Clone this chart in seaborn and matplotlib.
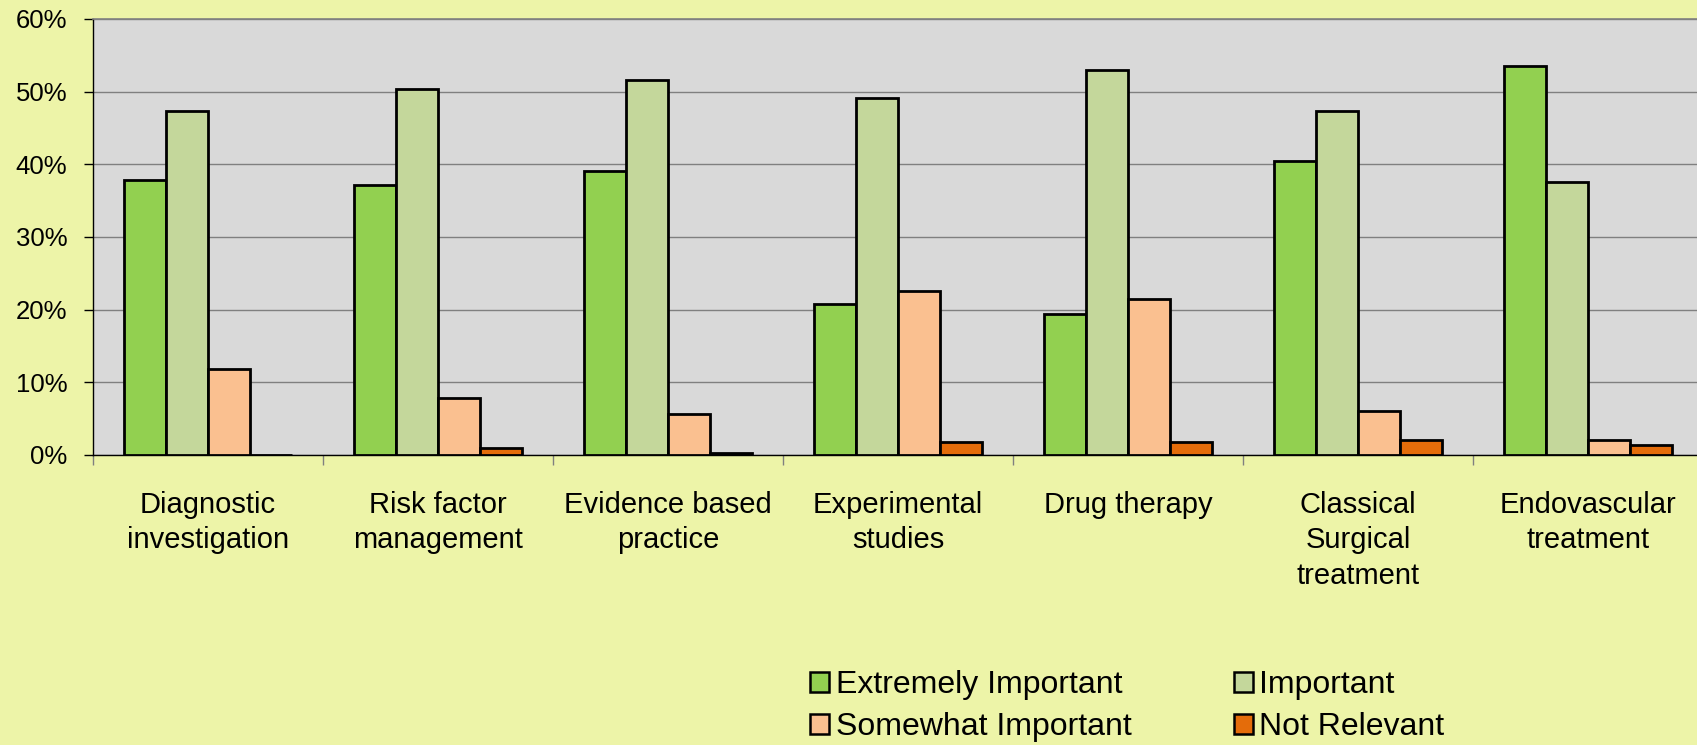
import pandas as pd
import matplotlib.pyplot as plt
import matplotlib.patches as mpatches
import matplotlib.ticker as mticker
import seaborn as sns

sns.set_style("white")
plt.rcParams['font.family'] = ['Liberation Sans', 'DejaVu Sans']
plt.rcParams['text.color'] = 'black'
plt.rcParams['xtick.color'] = 'black'
plt.rcParams['ytick.color'] = 'black'

# data (percent)
categories = ["Diagnostic\ninvestigation", "Risk factor\nmanagement", "Evidence based\npractice",
              "Experimental\nstudies", "Drug therapy", "Classical\nSurgical\ntreatment",
              "Endovascular\ntreatment"]
extremely_important = [37.9, 37.2, 39.1, 20.8, 19.4, 40.4, 53.6]
important = [47.3, 50.4, 51.6, 49.1, 53.0, 47.3, 37.6]
somewhat_important = [11.8, 7.8, 5.7, 22.6, 21.5, 6.1, 2.1]
not_relevant = [0.0, 1.0, 0.3, 1.8, 1.8, 2.1, 1.4]

series_names = ["Extremely Important", "Important", "Somewhat Important", "Not Relevant"]
series_colors = ["#92D050", "#C4D79B", "#FAC090", "#E46C0A"]

df = pd.DataFrame({
    "category": categories,
    "Extremely Important": extremely_important,
    "Important": important,
    "Somewhat Important": somewhat_important,
    "Not Relevant": not_relevant,
})
df_long = df.melt(id_vars="category", var_name="rating", value_name="pct")

fig = plt.figure(figsize=(16.97, 7.45), dpi=100)
fig.patch.set_facecolor("#EDF4A8")
ax = fig.add_axes([93 / 1697, 1 - 455 / 745, 1610 / 1697, 436 / 745])
ax.set_facecolor("#D9D9D9")

sns.barplot(data=df_long, x="category", y="pct", hue="rating", hue_order=series_names,
            palette=series_colors, width=0.727, edgecolor="black", linewidth=2.0,
            saturation=1, legend=False, ax=ax, zorder=3)

ax.set_ylim(0, 60)
ax.set_xlim(-0.5, len(categories) - 0.5)
ax.yaxis.set_major_locator(mticker.MultipleLocator(10))
ax.yaxis.set_major_formatter(mticker.FuncFormatter(lambda v, p: f"{v:.0f}%"))
ax.yaxis.grid(True, color="#808080", linewidth=1.0, zorder=0)
ax.set_axisbelow(True)
ax.set_xlabel("")
ax.set_ylabel("")

# spines
ax.spines["right"].set_visible(False)
ax.spines["top"].set_color("#808080")
ax.spines["top"].set_linewidth(1.2)
ax.spines["left"].set_color("black")
ax.spines["bottom"].set_color("black")
ax.spines["left"].set_linewidth(1.0)
ax.spines["bottom"].set_linewidth(1.0)

ax.tick_params(axis="y", direction="out", length=6.5, width=1, color="black",
               labelcolor="black", labelsize=18.5, pad=12, left=True)
ax.tick_params(axis="x", which="major", length=0, labelsize=21, pad=26, labelcolor="black")
ax.set_xticks([i + 0.5 for i in range(-1, len(categories))], minor=True)
ax.tick_params(axis="x", which="minor", direction="out", length=7, width=1, color="#808080",
               bottom=True)
for lab in ax.get_xticklabels():
    lab.set_linespacing(1.33)
    lab.set_verticalalignment("top")

handles = [mpatches.Patch(facecolor=series_colors[i], edgecolor="black", linewidth=1.8,
                          label=series_names[i]) for i in [0, 2, 1, 3]]
leg = fig.legend(handles=handles, ncol=2, loc="center left",
                 bbox_to_anchor=(810 / 1697, 1 - 706 / 745),
                 frameon=False, fontsize=23, handlelength=0.6, handleheight=0.6,
                 handletextpad=0.2, columnspacing=3.2, labelspacing=0.38,
                 borderpad=0, borderaxespad=0)
for t in leg.get_texts():
    t.set_color("black")

fig.savefig("out.png", dpi=100, facecolor=fig.get_facecolor())
